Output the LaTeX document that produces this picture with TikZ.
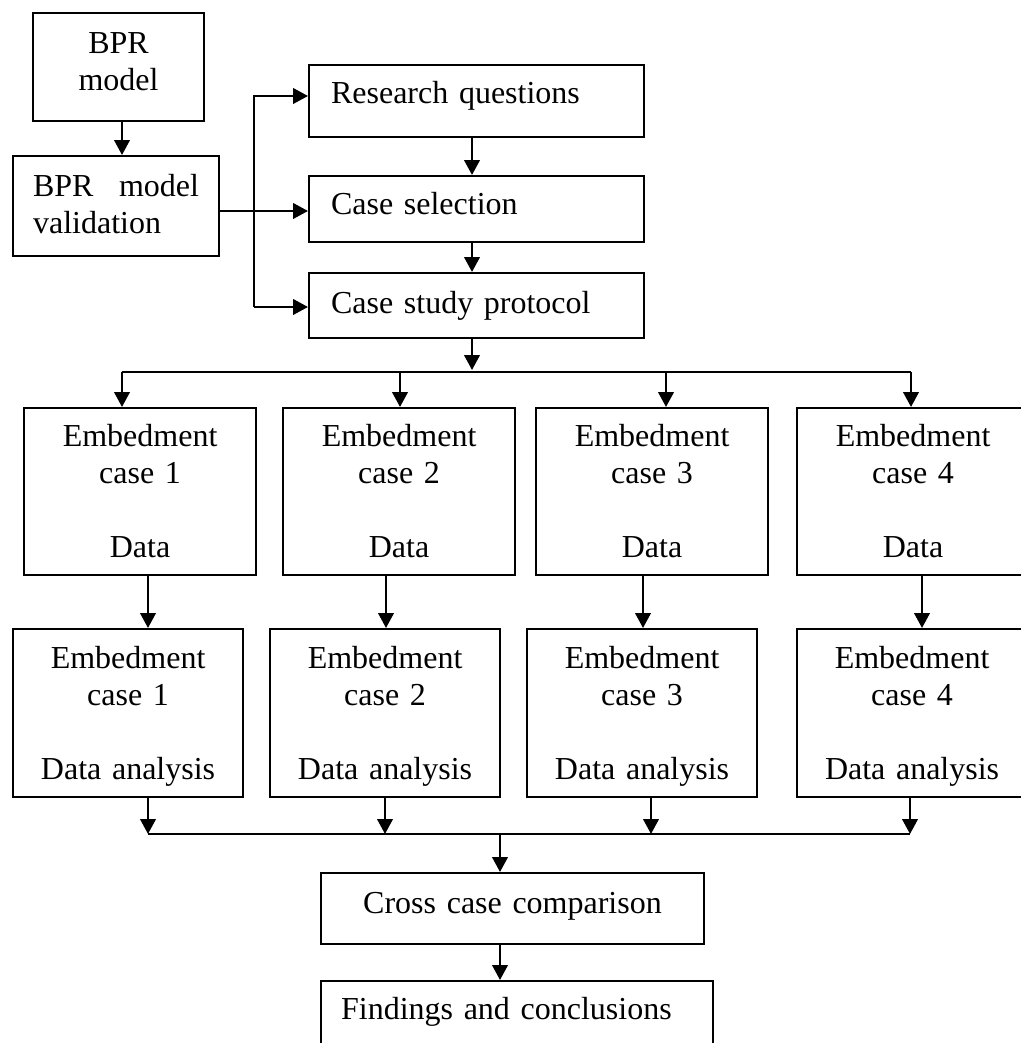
\documentclass[tikz,border=0pt]{standalone}
\usepackage{fontspec}
\setmainfont{Liberation Serif}
\usetikzlibrary{arrows.meta, positioning}

\begin{document}
\begin{tikzpicture}[
    x=0.375pt, y=-0.375pt,
    box/.style={draw, line width=0.8pt, anchor=north west, inner ysep=0pt, font=\fontsize{12pt}{13.9pt}\selectfont},
    cbox/.style={box, align=center, inner xsep=0pt},
    lbox/.style={box, align=left},
    arrow/.style={-{Triangle[length=5.6pt, width=5.8pt]}, line width=0.9pt},
    line/.style={line width=0.7pt}
]
\clip (0,0) rectangle (1021,1043);

% Define nodes
\node[cbox, text width=64.1pt, text height=15pt, text depth=25.5pt] (bpr) at (32,12) {BPR\\model};
\node[lbox, inner xsep=7.5pt, text width=62.25pt, text height=15pt, text depth=22.5pt] (val) at (12,155) {BPR\hfill model\\validation};

\node[lbox, inner xsep=8.25pt, text width=109.1pt, text height=14.6pt, text depth=12.4pt] (rq) at (308,64) {Research questions};
\node[lbox, inner xsep=8.25pt, text width=109.1pt, text height=14.25pt, text depth=10.5pt] (cs) at (308,175) {Case selection};
\node[lbox, inner xsep=8.25pt, text width=109.1pt, text height=15pt, text depth=9.4pt] (csp) at (308,272) {Case study protocol};

% embedded cases: data and analysis
\foreach \i/\x in {1/23, 2/282, 3/535, 4/796}
    \node[cbox, text width=87pt, text height=14.25pt, text depth=48.4pt] (e\i) at (\x,407) {Embedment\\case \i\\[13.9pt]Data};
\foreach \i/\x in {1/12, 2/269, 3/526, 4/796}
    \node[cbox, text width=86.25pt, text height=14.6pt, text depth=48.4pt] (a\i) at (\x,628) {Embedment\\case \i\\[13.9pt]Data analysis};

\node[cbox, text width=143.6pt, text height=15pt, text depth=11.6pt] (cross) at (320,872) {Cross case comparison};
\node[lbox, inner xsep=7.5pt, text width=132pt, text height=14.25pt, text depth=30pt] (find) at (320,980) {Findings and conclusions};

% Define arrows
\coordinate (forkT) at (254,96);
\coordinate (forkB) at (254,307);
\coordinate (busT) at (472,372);
\coordinate (busL) at (122,372);
\coordinate (busR) at (911,372);
\coordinate (joinL) at (148,834);
\coordinate (joinR) at (910,834);
\coordinate (joinM) at (500,834);

% model -> validation -> study design
\draw[arrow] (122,0 |- bpr.south) -- (122,0 |- val.north);
\draw[arrow] (val.east |- 0,211) -- (cs.west |- 0,211);
\draw[arrow] (forkB) |- (rq.west |- forkT);
\draw[arrow] (forkB) -- (csp.west |- forkB);
\draw[arrow] (472,0 |- rq.south) -- (472,0 |- cs.north);
\draw[arrow] (472,0 |- cs.south) -- (472,0 |- csp.north);

% protocol -> cases
\draw[arrow] (472,0 |- csp.south) -- ([yshift=0.75pt]busT);
\draw[line] (busL) -- (busR);
\foreach \i/\x in {1/122, 2/400, 3/666, 4/911}
    \draw[arrow] (\x,0 |- busL) -- (\x,0 |- e\i.north);
\foreach \i/\x in {1/148, 2/386, 3/643, 4/922}
    \draw[arrow] (\x,0 |- e\i.south) -- (\x,0 |- a\i.north);

% analyses -> comparison -> findings
\foreach \i/\x in {1/148, 2/385, 3/651, 4/910}
    \draw[arrow] (\x,0 |- a\i.south) -- (\x,0 |- joinL);
\draw[line] (joinL) -- (joinR);
\draw[arrow] (joinM) -- (500,0 |- cross.north);
\draw[arrow] (500,0 |- cross.south) -- (500,0 |- find.north);

\end{tikzpicture}
\end{document}
